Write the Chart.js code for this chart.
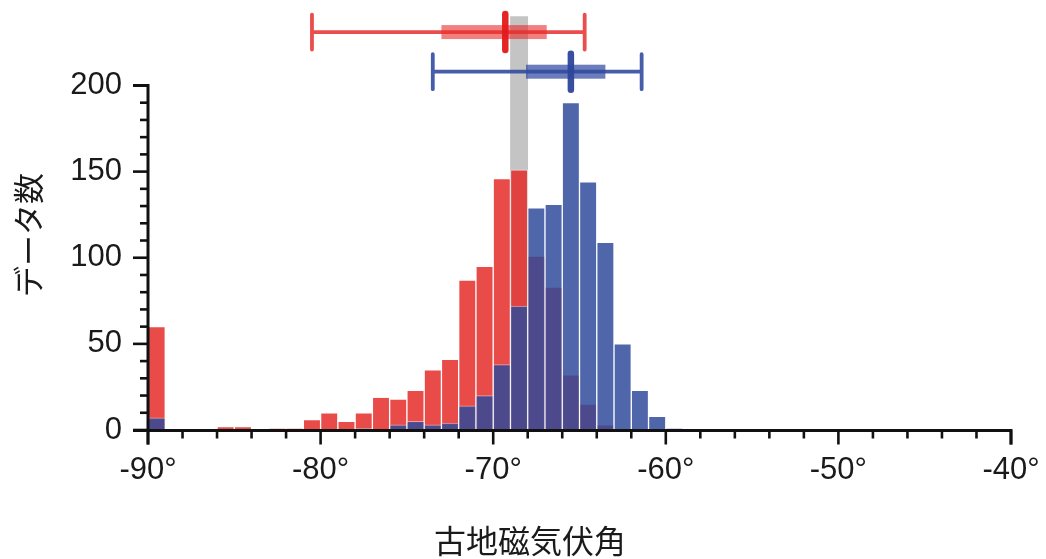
<!DOCTYPE html>
<html>
<head>
<meta charset="utf-8">
<script src="https://cdn.jsdelivr.net/npm/chart.js@4.4.0/dist/chart.umd.min.js"></script>
<style>
html,body{margin:0;padding:0;background:#fff;}
#wrap{width:1046px;height:559px;}
</style>
</head>
<body>
<div id="wrap"><canvas id="c" width="1046" height="559"></canvas></div>
<script>
// ---- data (1° bins, left edge of each bin) ----
const binStarts = [-90,-89,-88,-87,-86,-85,-84,-83,-82,-81,-80,-79,-78,-77,-76,-75,-74,-73,-72,-71,-70,-69,-68,-67,-66,-65,-64,-63,-62,-61,-60];
const redCounts = [60,0,0,0,2,2,0,1,1,6,10,5,10,19,18,23,35,41,87,95,146,151,101,83,32,15,3,0,0,0,0];
const blueCounts = [7,0,0,0,0,0,0,0,0,0,0,0,1,0,3,5,3,4,14,20,38,72,129,131,190,144,109,50,23,8,1];

// reference band (grey)
const refBand = [-69, -68];
const refTop = 240;

// error bars at top: [red, blue]
const ciCenter = [-69.3, -65.5];
const ciLow = [-80.5, -73.5];
const ciHigh = [-64.7, -61.4];
const ciBoxLow = [-73.0, -68.1];
const ciBoxHigh = [-66.9, -63.5];
const ciLevel = [231, 208];

// ticks
const xTickValues = [-90,-80,-70,-60,-50,-40];
const xMinorStep = 2;
const yTickValues = [0,50,100,150,200];
const yMinorStep = 10;

const X_MIN = -90, X_MAX = -40;
const Y_MAX = 226.4;

const RED = 'rgba(228,41,37,0.84)';
const BLUE = 'rgba(48,74,154,0.845)';

const ciLineColors = ['rgba(232,45,45,0.85)', 'rgba(50,75,160,0.9)'];
const ciBoxColors = ['rgba(232,45,45,0.6)', 'rgba(50,75,160,0.72)'];
const ciMidColors = ['rgba(225,25,25,0.95)', 'rgba(45,70,155,0.95)'];

const axisPlugin = {
  id: 'customAxes',
  afterDatasetsDraw(chart) {
    const ctx = chart.ctx;
    const xs = chart.scales.x, ys = chart.scales.y;
    const x0 = xs.getPixelForValue(X_MIN), x1 = xs.getPixelForValue(X_MAX);
    const y0 = ys.getPixelForValue(0) + 0.5;
    const yTop = ys.getPixelForValue(yTickValues[yTickValues.length - 1]);
    ctx.save();
    ctx.strokeStyle = '#111';
    ctx.lineWidth = 3;
    ctx.lineJoin = 'miter';
    ctx.lineCap = 'butt';
    ctx.beginPath();
    ctx.moveTo(x0 - 15, yTop);
    ctx.lineTo(x0, yTop);
    ctx.lineTo(x0, y0 + 14);
    ctx.stroke();
    ctx.beginPath();
    ctx.moveTo(x0 - 15, y0);
    ctx.lineTo(x1, y0);
    ctx.lineTo(x1, y0 + 14);
    ctx.stroke();
    ctx.lineWidth = 2.6;
    for (let v = 0; v <= yTickValues[yTickValues.length - 1]; v += yMinorStep) {
      const y = ys.getPixelForValue(v);
      const major = yTickValues.includes(v);
      ctx.beginPath();
      ctx.moveTo(x0 - (major ? 15 : 8), y);
      ctx.lineTo(x0, y);
      ctx.stroke();
    }
    for (let v = X_MIN; v <= X_MAX; v += xMinorStep) {
      const x = xs.getPixelForValue(v);
      const major = xTickValues.includes(v);
      ctx.beginPath();
      ctx.moveTo(x, y0);
      ctx.lineTo(x, y0 + (major ? 14 : 8));
      ctx.stroke();
    }
    for (let i = 0; i < ciCenter.length; i++) {
      const y = ys.getPixelForValue(ciLevel[i]);
      const xl = xs.getPixelForValue(ciLow[i]);
      const xh = xs.getPixelForValue(ciHigh[i]);
      const bl = xs.getPixelForValue(ciBoxLow[i]);
      const bh = xs.getPixelForValue(ciBoxHigh[i]);
      const xc = xs.getPixelForValue(ciCenter[i]);
      ctx.lineCap = 'round';
      ctx.strokeStyle = ciLineColors[i];
      ctx.lineWidth = 3.8;
      ctx.beginPath();
      ctx.moveTo(xl, y); ctx.lineTo(xh, y);
      ctx.moveTo(xl, y - 17.5); ctx.lineTo(xl, y + 17.5);
      ctx.moveTo(xh, y - 17.5); ctx.lineTo(xh, y + 17.5);
      ctx.stroke();
      ctx.fillStyle = ciBoxColors[i];
      ctx.fillRect(bl, y - 7, bh - bl, 14);
      ctx.strokeStyle = ciMidColors[i];
      ctx.lineWidth = 6.5;
      ctx.beginPath();
      ctx.moveTo(xc, y - 18); ctx.lineTo(xc, y + 18);
      ctx.stroke();
    }
    ctx.restore();
  }
};

const ctx = document.getElementById('c').getContext('2d');
new Chart(ctx, {
  type: 'bar',
  data: {
    datasets: [
      {
        label: 'ref',
        data: [{x: (refBand[0] + refBand[1]) / 2, y: refTop}],
        backgroundColor: '#c4c4c4',
        borderWidth: 0,
        order: 3,
        clip: false,
        grouped: false,
        barPercentage: 1, categoryPercentage: 1
      },
      {
        label: 'red',
        data: binStarts.map((b, i) => ({x: b + 0.5, y: redCounts[i]})),
        backgroundColor: RED,
        borderColor: 'rgba(255,255,255,0.5)',
        borderWidth: 1,
        order: 2,
        grouped: false,
        barPercentage: 1, categoryPercentage: 1
      },
      {
        label: 'blue',
        data: binStarts.map((b, i) => ({x: b + 0.5, y: blueCounts[i]})),
        backgroundColor: BLUE,
        borderColor: 'rgba(255,255,255,0.45)',
        borderWidth: 1,
        order: 1,
        grouped: false,
        barPercentage: 1, categoryPercentage: 1
      }
    ]
  },
  options: {
    responsive: false,
    animation: false,
    layout: {padding: {left: 49, right: 35, top: 40, bottom: 0}},
    plugins: {
      legend: {display: false},
      tooltip: {enabled: false},
      title: {
        display: true,
        position: 'bottom',
        text: '古地磁気伏角',
        color: '#1a1a1a',
        font: {family: 'Noto Sans CJK JP', size: 32, weight: 'normal', lineHeight: 1.15},
        padding: {top: 0, bottom: 0}
      }
    },
    scales: {
      x: {
        type: 'linear',
        min: X_MIN, max: X_MAX,
        offset: false,
        grid: {display: false, drawTicks: false},
        border: {display: false},
        afterBuildTicks: s => { s.ticks = xTickValues.map(v => ({value: v})); },
        afterFit: s => { s.height = 559 - 430 - 36.8; s.paddingLeft = 0; s.paddingRight = 0; },
        ticks: {
          callback: v => v + '°',
          color: '#1a1a1a',
          font: {family: 'Liberation Sans', size: 31},
          padding: 22,
          maxRotation: 0,
          autoSkip: false
        }
      },
      y: {
        min: 0, max: Y_MAX,
        grid: {display: false, drawTicks: false},
        border: {display: false},
        afterBuildTicks: s => { s.ticks = yTickValues.map(v => ({value: v})); },
        afterFit: s => { s.width = 99; s.paddingTop = 0; s.paddingBottom = 0; },
        ticks: {
          color: '#1a1a1a',
          font: {family: 'Liberation Sans', size: 31},
          padding: 26,
          autoSkip: false
        },
        title: {
          display: true,
          text: 'データ数',
          color: '#1a1a1a',
          font: {family: 'Noto Sans CJK JP', size: 31, weight: 'normal', lineHeight: 1.2},
          padding: {top: -39.6, bottom: 0}
        }
      }
    }
  },
  plugins: [axisPlugin]
});
</script>
</body>
</html>
